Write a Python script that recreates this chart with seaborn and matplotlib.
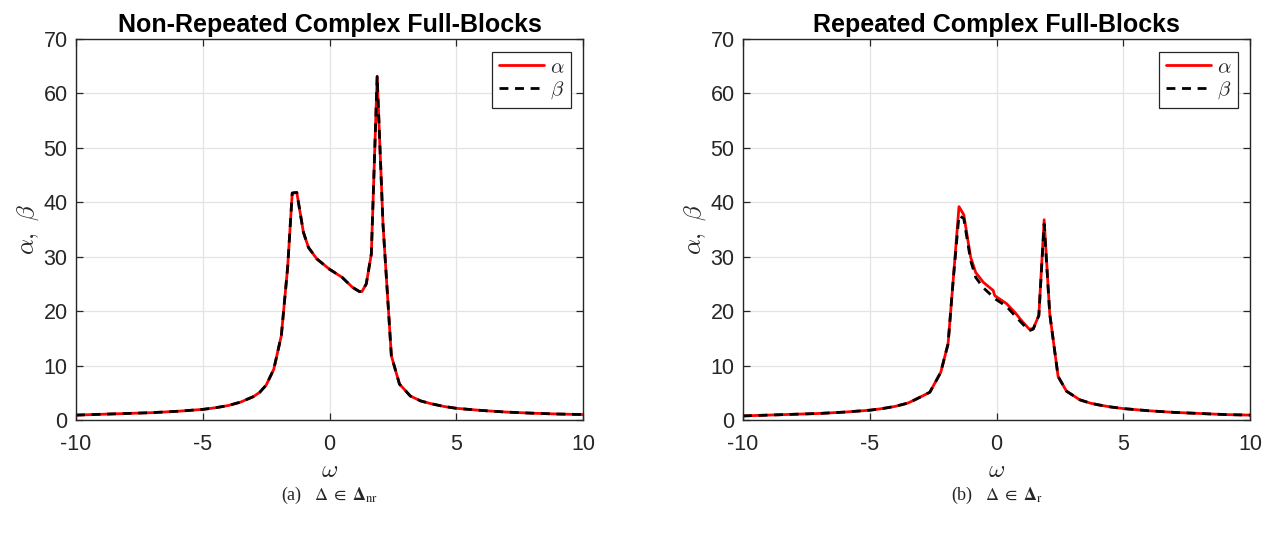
import numpy as np
import pandas as pd
import matplotlib
matplotlib.use("Agg")
import matplotlib.pyplot as plt
import seaborn as sns

# ---------------- data ----------------
omega_nr = [-10, -9, -8, -7, -6, -5, -4.5, -4, -3.5, -3, -2.75, -2.5, -2.2, -1.9,
            -1.65, -1.47, -1.29, -1.03, -0.83, -0.5, 0, 0.5, 0.9, 1.18, 1.28, 1.45,
            1.65, 1.88, 2.11, 2.44, 2.76, 3.19, 3.6, 4, 4.5, 5, 6, 7, 8, 9, 10]
alpha_nr = [0.9, 1.05, 1.2, 1.35, 1.6, 1.95, 2.25, 2.65, 3.3, 4.3, 5.1, 6.4, 9.3, 15.5,
            28.1, 41.7, 41.8, 34.5, 31.7, 29.6, 27.7, 26.2, 24.4, 23.6, 23.6, 25.0,
            30.5, 63.1, 36.0, 11.8, 6.6, 4.4, 3.5, 3.0, 2.5, 2.15, 1.75, 1.45, 1.25, 1.1, 1.0]
beta_nr = [0.9, 1.05, 1.2, 1.35, 1.6, 1.95, 2.25, 2.65, 3.3, 4.3, 5.1, 6.4, 9.3, 15.5,
           28.1, 41.7, 41.8, 34.5, 31.7, 29.6, 27.7, 26.2, 24.4, 23.6, 23.6, 25.0,
           30.5, 63.1, 36.0, 11.8, 6.6, 4.4, 3.5, 3.0, 2.5, 2.15, 1.75, 1.45, 1.25, 1.1, 1.0]

omega_r = [-10, -9, -8, -7, -6, -5, -4.5, -4, -3.5, -3.16, -2.63, -2.2, -1.91, -1.71,
           -1.48, -1.29, -1.02, -0.82, -0.52, -0.13, -0.07, 0.39, 0.72, 1.0, 1.29, 1.45,
           1.67, 1.88, 2.10, 2.43, 2.76, 3.29, 3.7, 4, 4.5, 5, 6, 7, 8, 9, 10]
alpha_r = [0.75, 0.9, 1.05, 1.2, 1.45, 1.8, 2.1, 2.5, 3.1, 3.85, 5.1, 8.75, 14.0, 25.6,
           39.2, 37.7, 29.9, 27.1, 25.3, 23.8, 22.85, 21.4, 19.8, 18.2, 16.7, 16.8,
           19.2, 36.8, 19.5, 8.0, 5.3, 3.7, 3.1, 2.8, 2.4, 2.1, 1.7, 1.4, 1.2, 1.0, 0.9]
beta_r = [0.75, 0.9, 1.05, 1.2, 1.45, 1.8, 2.1, 2.5, 3.1, 3.85, 5.1, 8.75, 14.0, 25.6,
          37.6, 37.0, 29.3, 26.2, 24.3, 22.6, 22.3, 20.9, 19.2, 17.8, 16.4, 16.7,
          19.2, 36.0, 19.5, 8.0, 5.3, 3.7, 3.1, 2.8, 2.4, 2.1, 1.7, 1.4, 1.2, 1.0, 0.9]

titles = ["Non-Repeated Complex Full-Blocks", "Repeated Complex Full-Blocks"]
captions = [r"(a)   $\Delta\;\in\;\mathbf{\Delta}_{\mathrm{nr}}$",
            r"(b)   $\Delta\;\in\;\mathbf{\Delta}_{\mathrm{r}}$"]
xticks = [-10, -5, 0, 5, 10]
yticks = [0, 10, 20, 30, 40, 50, 60, 70]

# ---------------- style ----------------
sns.set_style("white")
plt.rcParams['font.family'] = ['Liberation Sans', 'DejaVu Sans']
axcol = '#262626'

fig = plt.figure(figsize=(12.71, 5.33), dpi=100)
lefts = [76 / 1271, 743 / 1271]
width = 507 / 1271
bottom = 1 - 420 / 533
height = 381 / 533

panels = [(omega_nr, alpha_nr, beta_nr), (omega_r, alpha_r, beta_r)]
for i, (om, a, b) in enumerate(panels):
    ax = fig.add_axes([lefts[i], bottom, width, height])
    df = pd.DataFrame({"omega": om, "alpha": a, "beta": b})
    sns.lineplot(data=df, x="omega", y="alpha", ax=ax, color='#ff0000', lw=2.0,
                 label=r"$\alpha$", sort=False)
    sns.lineplot(data=df, x="omega", y="beta", ax=ax, color='black', lw=2.0,
                 linestyle=(0, (3.2, 2.4)), label=r"$\beta$", sort=False)
    ax.set_xlim(-10, 10)
    ax.set_ylim(0, 70)
    ax.set_xticks(xticks)
    ax.set_yticks(yticks)
    ax.set_xticklabels([str(t) for t in xticks])
    ax.set_yticklabels([str(t) for t in yticks])
    ax.grid(True, color='#e3e3e3', lw=0.9)
    ax.set_axisbelow(True)
    for s in ax.spines.values():
        s.set_color(axcol)
        s.set_linewidth(1.0)
        s.set_visible(True)
    ax.tick_params(direction='in', length=5, width=0.9, color=axcol,
                   labelcolor=axcol, labelsize=15.5, top=True, right=True,
                   bottom=True, left=True)
    ax.tick_params(axis='x', pad=10)
    ax.tick_params(axis='y', pad=6)
    ax.set_title(titles[i], fontsize=18, fontweight='bold', color='black', pad=5)
    ax.set_xlabel(r"$\omega$", fontsize=18, color=axcol, math_fontfamily='cm', labelpad=2)
    ax.set_ylabel(r"$\alpha,\ \beta$", fontsize=18, color=axcol, math_fontfamily='cm', labelpad=2)
    leg = ax.legend(loc='upper right', frameon=True, fancybox=False,
                    framealpha=1, edgecolor=axcol, handlelength=2.2,
                    borderpad=0.3, labelspacing=0.15, handletextpad=0.25,
                    borderaxespad=0.6, prop={'family': 'DejaVu Serif', 'size': 15})
    for t in leg.get_texts():
        t.set_math_fontfamily('cm')
    leg.get_frame().set_linewidth(0.9)
    cx = lefts[i] + width / 2
    fig.text(cx, 1 - 495 / 533, captions[i], ha='center', va='center', fontsize=13,
             family=['Liberation Serif', 'DejaVu Serif'], math_fontfamily='stix')

fig.savefig("out.png", dpi=100)
